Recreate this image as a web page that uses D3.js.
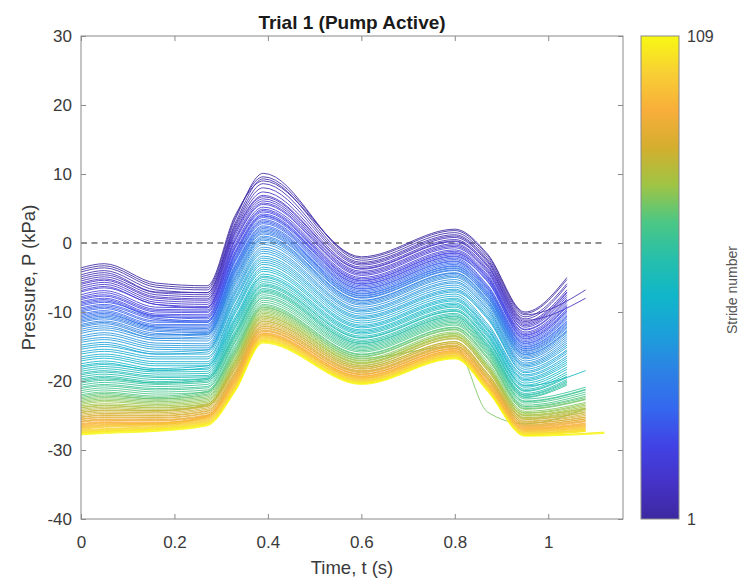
<!DOCTYPE html>
<html>
<head>
<meta charset="utf-8">
<script src="https://cdn.jsdelivr.net/npm/d3@7"></script>
<style>
    body { margin: 0; background: #fff; }
    text { font-family: "Liberation Sans", Arial, sans-serif; }
</style>
</head>
<body>
<script>
const knotTimes = [0, 0.05, 0.16, 0.27, 0.33, 0.39, 0.60, 0.80, 0.87, 0.95];

// Pressure (kPa) of strides 1..109 at each knot time
const p000 = [-3.6,-3.9,-4.2,-4.6,-4.9,-5.2,-5.5,-5.8,-6.0,-6.3,
    -6.6,-6.9,-7.1,-7.5,-7.8,-8.0,-8.2,-8.5,-8.7,-8.9,
    -9.1,-9.4,-9.6,-9.8,-10.0,-10.3,-10.5,-10.7,-10.9,-11.1,
    -11.3,-11.5,-11.8,-12.0,-12.2,-12.5,-12.8,-13.1,-13.5,-13.8,
    -14.1,-14.4,-14.8,-15.1,-15.4,-15.8,-16.1,-16.5,-16.8,-17.1,
    -17.5,-17.8,-18.0,-18.3,-18.6,-18.9,-19.1,-19.4,-19.7,-19.9,
    -20.1,-20.3,-20.6,-20.9,-21.1,-21.4,-21.7,-22.0,-22.2,-22.4,
    -22.6,-22.8,-23.0,-23.2,-23.4,-23.6,-23.8,-23.9,-24.1,-24.3,
    -24.5,-24.6,-24.8,-25.0,-25.2,-25.3,-25.5,-25.6,-25.8,-25.9,
    -26.0,-26.2,-26.3,-26.4,-26.5,-26.6,-26.7,-26.8,-26.9,-27.0,
    -27.1,-27.2,-27.3,-27.4,-27.5,-27.5,-27.6,-27.7,-27.8];

const p005 = [-3.0,-3.3,-3.6,-4.0,-4.3,-4.6,-4.9,-5.2,-5.4,-5.7,
    -6.0,-6.3,-6.5,-6.9,-7.2,-7.5,-7.7,-8.0,-8.2,-8.4,
    -8.6,-8.9,-9.1,-9.3,-9.5,-9.8,-10.0,-10.2,-10.4,-10.6,
    -10.8,-11.0,-11.3,-11.5,-11.7,-12.0,-12.3,-12.6,-13.0,-13.3,
    -13.7,-14.0,-14.4,-14.7,-15.0,-15.4,-15.7,-16.1,-16.4,-16.7,
    -17.1,-17.4,-17.6,-17.9,-18.2,-18.5,-18.7,-19.0,-19.3,-19.5,
    -19.7,-19.9,-20.2,-20.5,-20.7,-21.0,-21.3,-21.6,-21.8,-22.0,
    -22.2,-22.4,-22.6,-22.8,-23.0,-23.3,-23.5,-23.6,-23.8,-24.0,
    -24.2,-24.3,-24.5,-24.7,-24.9,-25.0,-25.2,-25.3,-25.5,-25.6,
    -25.7,-25.9,-26.0,-26.1,-26.2,-26.3,-26.4,-26.5,-26.6,-26.7,
    -26.9,-27.0,-27.1,-27.2,-27.3,-27.3,-27.4,-27.5,-27.6];

const p016 = [-5.8,-6.1,-6.4,-6.8,-7.1,-7.2,-7.5,-7.8,-8.0,-8.3,
    -8.6,-8.9,-8.9,-9.3,-9.6,-9.8,-10.0,-10.3,-10.5,-10.7,
    -10.6,-10.9,-11.1,-11.3,-11.5,-11.8,-12.0,-12.2,-12.2,-12.4,
    -12.6,-12.8,-13.1,-13.3,-13.5,-13.8,-13.8,-14.1,-14.5,-14.8,
    -15.1,-15.4,-15.8,-16.1,-16.1,-16.5,-16.8,-17.2,-17.5,-17.8,
    -18.2,-18.5,-18.4,-18.7,-19.0,-19.3,-19.5,-19.8,-20.1,-20.3,
    -20.3,-20.5,-20.8,-21.1,-21.3,-21.6,-21.9,-22.2,-22.4,-22.6,
    -22.6,-22.8,-23.0,-23.2,-23.4,-23.6,-23.8,-23.9,-24.1,-24.3,
    -24.3,-24.4,-24.6,-24.8,-25.0,-25.1,-25.3,-25.4,-25.6,-25.7,
    -25.8,-26.0,-26.1,-26.2,-26.3,-26.1,-26.2,-26.3,-26.4,-26.5,
    -26.6,-26.7,-26.8,-26.9,-27.0,-27.0,-27.1,-27.2,-27.3];

const p027 = [-6.2,-6.5,-6.8,-7.2,-7.2,-7.5,-7.8,-8.1,-8.3,-8.6,
    -8.9,-9.2,-9.4,-9.4,-9.7,-9.9,-10.1,-10.4,-10.6,-10.8,
    -11.0,-11.3,-11.5,-11.3,-11.5,-11.8,-12.0,-12.2,-12.4,-12.6,
    -12.8,-13.0,-13.3,-13.1,-13.3,-13.6,-13.9,-14.2,-14.6,-14.9,
    -15.2,-15.5,-15.5,-15.8,-16.1,-16.5,-16.8,-17.2,-17.5,-17.8,
    -17.8,-18.1,-18.3,-18.6,-18.9,-19.2,-19.4,-19.7,-19.6,-19.8,
    -20.0,-20.2,-20.5,-20.8,-21.0,-21.3,-21.6,-21.5,-21.7,-21.9,
    -22.1,-22.3,-22.5,-22.7,-22.9,-23.1,-23.3,-23.4,-23.6,-23.4,
    -23.6,-23.7,-23.9,-24.1,-24.3,-24.4,-24.6,-24.7,-24.9,-25.0,
    -25.1,-25.3,-25.0,-25.1,-25.2,-25.3,-25.4,-25.5,-25.6,-25.7,
    -25.8,-25.9,-26.0,-26.1,-26.2,-26.2,-26.3,-26.4,-26.5];

const p033 = [4.0,3.7,3.4,2.9,2.6,2.3,2.0,1.7,1.5,1.2,
    0.8,0.5,0.3,-0.1,-0.4,-0.6,-0.8,-1.2,-1.4,-1.6,
    -1.8,-2.1,-2.3,-2.5,-2.7,-3.1,-3.3,-3.5,-3.7,-3.9,
    -4.1,-4.3,-4.6,-4.9,-5.1,-5.4,-5.7,-6.0,-6.4,-6.8,
    -7.1,-7.4,-7.8,-8.1,-8.4,-8.9,-9.2,-9.6,-9.9,-10.2,
    -10.7,-11.0,-11.2,-11.5,-11.8,-12.1,-12.3,-12.7,-13.0,-13.2,
    -13.4,-13.6,-13.9,-14.2,-14.4,-14.8,-15.1,-15.4,-15.6,-15.8,
    -16.0,-16.2,-16.4,-16.7,-16.9,-17.1,-17.3,-17.4,-17.6,-17.8,
    -18.0,-18.1,-18.3,-18.6,-18.8,-18.9,-19.1,-19.2,-19.4,-19.5,
    -19.6,-19.8,-19.9,-20.0,-20.1,-20.2,-20.3,-20.5,-20.6,-20.7,
    -20.8,-20.9,-21.0,-21.1,-21.2,-21.2,-21.3,-21.4,-21.5];

const p039 = [9.0,9.6,10.1,9.3,8.6,8.0,7.4,6.9,6.7,6.4,
    6.1,5.8,5.6,5.2,4.9,4.7,4.5,4.2,4.0,3.9,
    3.7,3.4,3.2,3.0,2.8,2.5,2.3,2.1,1.9,1.7,
    1.5,1.3,1.0,0.8,0.6,0.4,0.1,-0.2,-0.6,-0.9,
    -1.2,-1.5,-1.9,-2.2,-2.5,-2.8,-3.1,-3.5,-3.8,-4.1,
    -4.5,-4.8,-5.0,-5.3,-5.6,-5.9,-6.1,-6.3,-6.6,-6.8,
    -7.0,-7.2,-7.5,-7.8,-8.0,-8.3,-8.6,-8.9,-9.1,-9.3,
    -9.4,-9.6,-9.8,-10.0,-10.2,-10.4,-10.6,-10.7,-10.9,-11.1,
    -11.3,-11.4,-11.6,-11.8,-12.0,-12.1,-12.3,-12.4,-12.6,-12.7,
    -12.8,-13.0,-13.1,-13.2,-13.3,-13.3,-13.4,-13.5,-13.6,-13.7,
    -13.8,-13.9,-14.0,-14.1,-14.2,-14.2,-14.3,-14.4,-14.5];

const p060 = [-2.0,-2.2,-2.5,-2.8,-3.0,-3.2,-3.5,-3.7,-3.8,-4.1,
    -4.3,-4.5,-4.7,-5.0,-5.2,-5.4,-5.5,-5.7,-5.9,-6.0,
    -6.2,-6.4,-6.6,-6.7,-6.9,-7.1,-7.3,-7.4,-7.6,-7.7,
    -7.9,-8.0,-8.3,-8.4,-8.6,-8.8,-9.0,-9.3,-9.6,-9.8,
    -10.0,-10.3,-10.6,-10.8,-11.0,-11.3,-11.6,-11.9,-12.1,-12.3,
    -12.6,-12.8,-13.0,-13.2,-13.5,-13.7,-13.8,-14.1,-14.3,-14.5,
    -14.6,-14.8,-15.0,-15.2,-15.4,-15.6,-15.8,-16.1,-16.2,-16.4,
    -16.5,-16.7,-16.8,-17.0,-17.1,-17.3,-17.4,-17.5,-17.7,-17.8,
    -18.0,-18.0,-18.2,-18.3,-18.5,-18.6,-18.7,-18.8,-19.0,-19.0,
    -19.1,-19.3,-19.3,-19.4,-19.5,-19.6,-19.6,-19.7,-19.8,-19.9,
    -20.0,-20.0,-20.1,-20.2,-20.3,-20.3,-20.3,-20.4,-20.5];

const p080 = [2.0,1.8,1.5,1.2,1.0,0.8,0.5,0.3,0.2,-0.1,
    -0.3,-0.5,-0.7,-1.0,-1.2,-1.4,-1.5,-1.7,-1.9,-2.0,
    -2.2,-2.4,-2.6,-2.7,-2.9,-3.1,-3.3,-3.4,-3.6,-3.7,
    -3.9,-4.0,-4.3,-4.4,-4.6,-4.8,-5.0,-5.3,-5.6,-5.8,
    -6.1,-6.4,-6.7,-6.9,-7.1,-7.4,-7.7,-8.0,-8.2,-8.4,
    -8.7,-8.9,-9.1,-9.3,-9.6,-9.8,-9.9,-10.2,-10.4,-10.6,
    -10.7,-10.9,-11.1,-11.3,-11.5,-11.7,-11.9,-12.2,-12.3,-12.5,
    -12.6,-15.0,-12.9,-13.1,-13.2,-13.4,-13.5,-13.6,-13.8,-13.9,
    -14.3,-14.3,-14.5,-14.6,-14.8,-14.9,-15.0,-15.1,-15.3,-15.3,
    -15.4,-15.6,-15.6,-15.7,-15.8,-15.9,-15.9,-16.0,-16.1,-16.2,
    -16.3,-16.3,-16.4,-16.5,-16.6,-16.6,-16.6,-16.7,-16.8];

const p087 = [-1.6,-1.8,-2.1,-2.4,-2.6,-2.8,-3.1,-3.3,-3.4,-3.7,
    -3.9,-4.1,-4.3,-4.6,-4.8,-5.0,-5.1,-5.3,-5.5,-5.6,
    -6.1,-6.3,-6.5,-6.6,-6.8,-7.0,-7.2,-7.3,-7.5,-7.6,
    -7.8,-7.9,-8.2,-8.3,-8.5,-8.7,-8.9,-9.2,-9.5,-9.7,
    -10.0,-10.3,-10.6,-10.8,-11.0,-11.7,-12.0,-12.3,-12.5,-12.7,
    -13.0,-13.2,-13.4,-13.6,-13.9,-14.1,-14.2,-14.5,-14.7,-14.9,
    -15.0,-15.2,-15.4,-15.6,-15.8,-16.0,-16.2,-16.5,-16.6,-16.8,
    -17.2,-24.5,-17.5,-17.7,-17.8,-18.0,-18.1,-18.2,-18.4,-18.5,
    -18.9,-18.9,-19.1,-19.2,-19.4,-19.5,-19.6,-19.7,-19.9,-19.9,
    -20.1,-20.3,-20.3,-20.4,-20.5,-20.6,-20.6,-20.7,-20.8,-20.9,
    -21.0,-21.0,-21.1,-21.2,-21.3,-21.3,-21.3,-21.4,-21.5];

const p095 = [-10.0,-10.2,-10.4,-10.7,-11.0,-11.2,-11.4,-11.6,-11.8,-12.0,
    -12.2,-12.5,-12.6,-12.9,-13.1,-13.3,-13.4,-13.6,-13.8,-13.9,
    -14.1,-14.3,-14.5,-14.6,-14.8,-15.0,-15.1,-15.3,-15.4,-15.6,
    -15.7,-15.9,-16.1,-16.2,-16.4,-16.6,-16.8,-17.1,-17.4,-17.6,
    -17.8,-18.0,-18.3,-18.6,-18.8,-19.1,-19.3,-19.6,-19.8,-20.0,
    -20.3,-20.6,-20.7,-20.9,-21.2,-21.4,-21.5,-21.8,-22.0,-22.1,
    -22.3,-22.4,-22.6,-22.9,-23.0,-23.2,-23.5,-23.7,-23.8,-24.0,
    -24.1,-26.2,-24.4,-24.6,-24.7,-24.9,-25.0,-25.1,-25.3,-25.4,
    -25.5,-25.6,-25.8,-25.9,-26.1,-26.1,-26.3,-26.4,-26.5,-26.6,
    -26.7,-26.8,-26.9,-27.0,-27.0,-27.1,-27.2,-27.3,-27.3,-27.4,
    -27.5,-27.6,-27.6,-27.7,-27.8,-27.8,-27.9,-27.9,-28.0];

// Last sample of each stride: pressure (kPa) and time (s)
const pEnd = [-5.0,-5.3,-6.8,-5.9,-6.2,-8.0,-6.8,-7.1,-7.2,-7.5,
    -7.8,-8.1,-8.3,-8.6,-8.9,-9.1,-9.3,-9.6,-9.8,-9.9,
    -10.1,-10.4,-10.6,-10.8,-11.0,-11.3,-11.4,-11.6,-11.8,-12.0,
    -12.2,-12.4,-12.7,-12.8,-13.0,-13.3,-13.6,-13.9,-14.2,-14.5,
    -14.8,-15.1,-15.5,-15.7,-16.0,-16.4,-16.7,-17.0,-17.3,-17.6,
    -18.0,-18.3,-18.5,-18.7,-19.0,-19.3,-19.5,-19.8,-20.0,-20.2,
    -20.4,-20.6,-20.9,-21.2,-21.3,-21.6,-21.9,-22.2,-22.4,-22.6,
    -22.7,-24.0,-23.1,-23.3,-23.5,-23.7,-23.9,-24.0,-24.1,-24.3,
    -24.5,-24.6,-24.8,-25.0,-25.2,-25.3,-25.5,-25.5,-25.7,-25.8,
    -25.9,-26.1,-26.2,-26.3,-26.4,-26.5,-26.6,-26.7,-26.8,-26.9,
    -27.0,-27.1,-27.1,-27.2,-27.3,-27.3,-27.4,-27.5,-27.6];

const tEnd = [1.04,1.04,1.08,1.04,1.04,1.08,1.04,1.04,1.04,1.04,
    1.04,1.04,1.04,1.04,1.04,1.04,1.04,1.04,1.04,1.04,
    1.04,1.04,1.04,1.04,1.04,1.04,1.04,1.04,1.04,1.04,
    1.04,1.04,1.04,1.04,1.04,1.04,1.04,1.04,1.04,1.04,
    1.04,1.04,1.04,1.04,1.04,1.04,1.04,1.04,1.04,1.04,
    1.04,1.04,1.08,1.04,1.04,1.04,1.04,1.04,1.04,1.04,
    1.04,1.04,1.08,1.08,1.08,1.08,1.08,1.08,1.08,1.08,
    1.08,1.08,1.08,1.08,1.08,1.08,1.08,1.08,1.08,1.08,
    1.08,1.08,1.08,1.08,1.08,1.08,1.08,1.08,1.08,1.08,
    1.08,1.08,1.08,1.08,1.08,1.08,1.08,1.08,1.08,1.08,
    1.08,1.08,1.08,1.08,1.08,1.08,1.12,1.12,1.12];

// Axis ticks and labels
const xTicks = [0, 0.2, 0.4, 0.6, 0.8, 1];
const xTickLabels = ["0", "0.2", "0.4", "0.6", "0.8", "1"];
const yTicks = [-40, -30, -20, -10, 0, 10, 20, 30];
const yTickLabels = ["-40", "-30", "-20", "-10", "0", "10", "20", "30"];

// Parula-like colour map (bottom to top)
const parulaStops = ["#3d28a0", "#4533c8", "#4143e5", "#3468ef", "#2c82e4", "#1ca0da", "#10b6ca",
    "#26bfab", "#4cc784", "#a0c444", "#d4ae2e", "#f8ae3a", "#f8cf34", "#f8f814"];

window.onload = function () {
    drawChart();
}

function drawChart() {
    let vis = {};
    //Width and height
    vis.width = 744;
    vis.height = 581;
    //Plot box
    vis.left = 81;
    vis.right = 623;
    vis.top = 36;
    vis.bottom = 519;

    vis.svg = d3.select("body")
        .append("svg")
        .attr("width", vis.width)
        .attr("height", vis.height);

    vis.x = d3.scaleLinear().domain([0, 1.16]).range([vis.left, vis.right]);
    vis.y = d3.scaleLinear().domain([-40, 30]).range([vis.bottom, vis.top]);

    vis.color = d3.scaleSequential(d3.piecewise(d3.interpolateRgb, parulaStops))
        .domain([1, 109]);

    //Build one series per stride
    const knotArrays = [p000, p005, p016, p027, p033, p039, p060, p080, p087, p095];
    let strides = [];
    for (let i = 0; i < p000.length; i++) {
        let pts = knotTimes.map((t, k) => [t, knotArrays[k][i]]);
        pts.push([tEnd[i], pEnd[i]]);
        strides.push({stride: i + 1, points: pts});
    }

    //White plot area and dashed zero line
    vis.svg.append("rect")
        .attr("x", vis.left).attr("y", vis.top)
        .attr("width", vis.right - vis.left).attr("height", vis.bottom - vis.top)
        .attr("fill", "#fff");

    vis.svg.append("line")
        .attr("x1", vis.x(0)).attr("x2", vis.x(1.12))
        .attr("y1", vis.y(0)).attr("y2", vis.y(0))
        .attr("stroke", "#6b6b6b")
        .attr("stroke-width", 1.3)
        .attr("stroke-dasharray", "6,4.5");

    //Stride lines
    const line = d3.line()
        .x(d => vis.x(d[0]))
        .y(d => vis.y(d[1]))
        .curve(d3.curveMonotoneX);

    vis.svg.append("g")
        .selectAll("path")
        .data(strides)
        .enter()
        .append("path")
        .attr("d", d => line(d.points))
        .attr("fill", "none")
        .attr("stroke", d => vis.color(d.stride))
        .attr("stroke-width", 1)
        .attr("stroke-opacity", 0.85);

    //Axes with inward ticks (box on)
    const tickColor = "#3a3a3a";
    let xAxis = vis.svg.append("g")
        .attr("transform", `translate(0,${vis.bottom})`)
        .call(d3.axisBottom(vis.x).tickValues(xTicks)
            .tickFormat((d, i) => xTickLabels[i])
            .tickSize(-5).tickPadding(17));
    let yAxis = vis.svg.append("g")
        .attr("transform", `translate(${vis.left},0)`)
        .call(d3.axisLeft(vis.y).tickValues(yTicks)
            .tickFormat((d, i) => yTickLabels[i])
            .tickSize(-5).tickPadding(9));
    let xTop = vis.svg.append("g")
        .attr("transform", `translate(0,${vis.top})`)
        .call(d3.axisTop(vis.x).tickValues(xTicks).tickFormat("").tickSize(-5));
    let yRight = vis.svg.append("g")
        .attr("transform", `translate(${vis.right},0)`)
        .call(d3.axisRight(vis.y).tickValues(yTicks).tickFormat("").tickSize(-5));

    [xAxis, yAxis, xTop, yRight].forEach(g => {
        g.select(".domain").remove();
        g.selectAll(".tick line").attr("stroke", "#8a8a8a");
        g.selectAll(".tick text")
            .attr("fill", tickColor)
            .style("font-size", "17px")
            .style("font-family", "'Liberation Sans', Arial, sans-serif");
    });

    vis.svg.append("rect")
        .attr("x", vis.left).attr("y", vis.top)
        .attr("width", vis.right - vis.left).attr("height", vis.bottom - vis.top)
        .attr("fill", "none")
        .attr("stroke", "#8a8a8a")
        .attr("stroke-width", 1);

    //Title and axis labels
    vis.svg.append("text")
        .attr("x", (vis.left + vis.right) / 2).attr("y", 29)
        .attr("text-anchor", "middle")
        .style("font-size", "19px").style("font-weight", "bold")
        .attr("fill", "#1a1a1a")
        .text("Trial 1 (Pump Active)");

    vis.svg.append("text")
        .attr("x", (vis.left + vis.right) / 2).attr("y", 574)
        .attr("text-anchor", "middle")
        .style("font-size", "18.5px")
        .attr("fill", tickColor)
        .text("Time, t (s)");

    vis.svg.append("text")
        .attr("transform", `translate(35,${(vis.top + vis.bottom) / 2}) rotate(-90)`)
        .attr("text-anchor", "middle")
        .style("font-size", "18.5px")
        .attr("fill", tickColor)
        .text("Pressure, P (kPa)");

    //Colour bar
    const cb = {x: 641, w: 38};
    let grad = vis.svg.append("defs").append("linearGradient")
        .attr("id", "parula")
        .attr("x1", "0").attr("y1", "1").attr("x2", "0").attr("y2", "0");
    grad.selectAll("stop")
        .data(parulaStops)
        .enter()
        .append("stop")
        .attr("offset", (d, i) => i / (parulaStops.length - 1))
        .attr("stop-color", d => d);

    vis.svg.append("rect")
        .attr("x", cb.x).attr("y", vis.top)
        .attr("width", cb.w).attr("height", vis.bottom - vis.top)
        .attr("fill", "url(#parula)")
        .attr("stroke", "#8a8a8a")
        .attr("stroke-width", 1);

    vis.cbScale = d3.scaleLinear().domain([1, 109]).range([vis.bottom, vis.top]);
    vis.svg.append("g")
        .selectAll("text")
        .data([1, 109])
        .enter()
        .append("text")
        .attr("x", cb.x + cb.w + 8)
        .attr("y", d => vis.cbScale(d))
        .attr("dy", "0.35em")
        .style("font-size", "16px")
        .attr("fill", tickColor)
        .text(d => d);

    vis.svg.append("text")
        .attr("transform", `translate(737,290) rotate(-90)`)
        .attr("text-anchor", "middle")
        .style("font-size", "14px")
        .attr("fill", "#555")
        .text("Stride number");
}
</script>
</body>
</html>
